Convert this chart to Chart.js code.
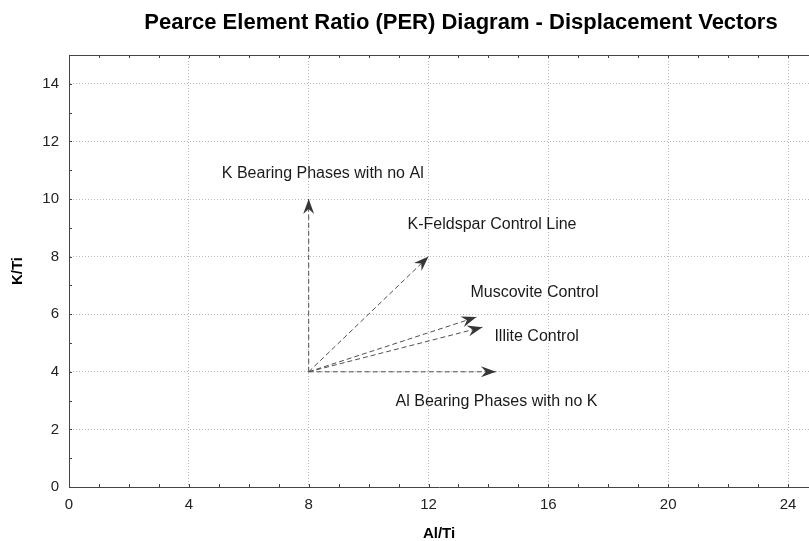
<!DOCTYPE html>
<html>
<head>
<meta charset="utf-8">
<script src="https://cdn.jsdelivr.net/npm/chart.js@4/dist/chart.umd.min.js"></script>
<style>
  html, body { margin: 0; padding: 0; background: #fff; }
  #wrap { width: 809px; height: 541px; }
  canvas { background: #fff; }
</style>
</head>
<body>
<div id="wrap"><canvas id="per-chart" width="809" height="541"></canvas></div>
<script>
// displacement vectors, all start at the same point
const vectorNames = [
  "K Bearing Phases with no Al",
  "K-Feldspar Control Line",
  "Muscovite Control",
  "Illite Control",
  "Al Bearing Phases with no K",
];
const startAlTi = [8, 8, 8, 8, 8];
const startKTi = [4, 4, 4, 4, 4];
const endAlTi = [8, 12, 13.6, 13.8, 14.25];
const endKTi = [10, 8, 5.9, 5.55, 4];

const xTickLabels = [0, 4, 8, 12, 16, 20, 24];
const yTickLabels = [0, 2, 4, 6, 8, 10, 12, 14];

// where each vector's caption sits (data units, left edge / middle)
const captionAt = [
  { x: 5.1, y: 10.87 },
  { x: 11.3, y: 9.1 },
  { x: 13.4, y: 6.75 },
  { x: 14.2, y: 5.22 },
  { x: 10.9, y: 2.96 },
];

const INK = "#444444";
const GRID = "#b8b8b8";
const SANS = "'Liberation Sans', Arial, sans-serif";

const datasets = vectorNames.map((name, i) => ({
  label: name,
  data: [
    { x: startAlTi[i], y: startKTi[i] },
    { x: endAlTi[i], y: endKTi[i] },
  ],
  showLine: true,
  borderColor: "#505050",
  borderWidth: 1,
  borderDash: [5, 3],
  pointRadius: 0,
  pointHoverRadius: 0,
}));

const arrowHeads = {
  id: "arrowHeads",
  afterDatasetsDraw(chart) {
    const ctx = chart.ctx;
    ctx.save();
    ctx.fillStyle = "#363636";
    chart.data.datasets.forEach((ds, i) => {
      const pts = chart.getDatasetMeta(i).data;
      const a = pts[0], b = pts[pts.length - 1];
      const dx = b.x - a.x, dy = b.y - a.y;
      const len = Math.hypot(dx, dy);
      const ux = dx / len, uy = dy / len;
      const nx = -uy, ny = ux;
      const L = 15, W = 5.5, N = 5;
      ctx.beginPath();
      ctx.moveTo(b.x, b.y);
      ctx.lineTo(b.x - L * ux + W * nx, b.y - L * uy + W * ny);
      ctx.lineTo(b.x - (L - N) * ux, b.y - (L - N) * uy);
      ctx.lineTo(b.x - L * ux - W * nx, b.y - L * uy - W * ny);
      ctx.closePath();
      ctx.fill();
    });
    ctx.restore();
  },
};

const captions = {
  id: "captions",
  afterDatasetsDraw(chart) {
    const ctx = chart.ctx;
    const xs = chart.scales.x, ys = chart.scales.y;
    ctx.save();
    ctx.fillStyle = "#1a1a1a";
    ctx.font = "16px " + SANS;
    ctx.textAlign = "left";
    ctx.textBaseline = "middle";
    vectorNames.forEach((name, i) => {
      ctx.fillText(name, xs.getPixelForValue(captionAt[i].x), ys.getPixelForValue(captionAt[i].y));
    });
    // title
    ctx.fillStyle = "#000";
    ctx.font = "bold 22px " + SANS;
    ctx.textAlign = "center";
    ctx.fillText("Pearce Element Ratio (PER) Diagram - Displacement Vectors", 461, 23);
    ctx.restore();
  },
};

// small inward tick marks and the top frame line
const innerTicks = {
  id: "innerTicks",
  afterDraw(chart) {
    const ctx = chart.ctx;
    const area = chart.chartArea;
    const xs = chart.scales.x, ys = chart.scales.y;
    ctx.save();
    ctx.strokeStyle = INK;
    ctx.lineWidth = 1;
    ctx.beginPath();
    ctx.moveTo(area.left, area.top + 0.5);
    ctx.lineTo(area.right, area.top + 0.5);
    xs.ticks.forEach((t) => {
      const px = Math.round(xs.getPixelForValue(t.value)) + 0.5;
      ctx.moveTo(px, area.bottom);
      ctx.lineTo(px, area.bottom - 3);
      ctx.moveTo(px, area.top);
      ctx.lineTo(px, area.top + 3);
    });
    ys.ticks.forEach((t) => {
      const py = Math.round(ys.getPixelForValue(t.value)) + 0.5;
      ctx.moveTo(area.left, py);
      ctx.lineTo(area.left + 3, py);
    });
    ctx.stroke();
    ctx.restore();
  },
};

const wholeTicks = (scale, last) => {
  scale.ticks = [];
  for (let v = 0; v <= last; v++) scale.ticks.push({ value: v });
};

new Chart(document.getElementById("per-chart"), {
  type: "scatter",
  data: { datasets },
  plugins: [arrowHeads, captions, innerTicks],
  options: {
    responsive: false,
    animation: false,
    events: [],
    layout: { padding: { top: 55, right: 0, left: 0, bottom: 0 } },
    plugins: {
      legend: { display: false },
      tooltip: { enabled: false },
      title: { display: false },
    },
    scales: {
      x: {
        type: "linear",
        min: 0,
        max: 24.7,
        afterBuildTicks: (scale) => wholeTicks(scale, 24),
        afterFit(scale) {
          scale.height = 54;
          scale.paddingLeft = 0;
          scale.paddingRight = 0;
        },
        ticks: {
          autoSkip: false,
          maxRotation: 0,
          padding: 9,
          color: "#222",
          font: { family: SANS, size: 15 },
          callback: (v) => (xTickLabels.includes(v) ? String(v) : ""),
        },
        grid: {
          drawTicks: false,
          color: (c) => (c.tick && xTickLabels.includes(c.tick.value) && c.tick.value !== 0 ? GRID : "transparent"),
          lineWidth: 1,
        },
        border: { display: true, color: INK, width: 1, dash: [1, 2] },
        title: {
          display: true,
          text: "Al/Ti",
          color: "#000",
          font: { family: SANS, size: 15, weight: "bold", lineHeight: 1 },
          padding: { top: 0, bottom: 0 },
        },
      },
      y: {
        type: "linear",
        min: 0,
        max: 15,
        afterBuildTicks: (scale) => wholeTicks(scale, 15),
        afterFit(scale) {
          scale.width = 69;
          scale.paddingTop = 0;
          scale.paddingBottom = 0;
        },
        ticks: {
          autoSkip: false,
          padding: 10,
          color: "#222",
          font: { family: SANS, size: 15 },
          callback: (v) => (yTickLabels.includes(v) ? String(v) : ""),
        },
        grid: {
          drawTicks: false,
          color: (c) => (c.tick && yTickLabels.includes(c.tick.value) && c.tick.value !== 0 ? GRID : "transparent"),
          lineWidth: 1,
        },
        border: { display: true, color: INK, width: 1, dash: [1, 2] },
        title: {
          display: true,
          text: "K/Ti",
          color: "#000",
          font: { family: SANS, size: 15, weight: "bold", lineHeight: 1 },
          padding: { top: 10, bottom: 0 },
        },
      },
    },
  },
});
</script>
</body>
</html>
